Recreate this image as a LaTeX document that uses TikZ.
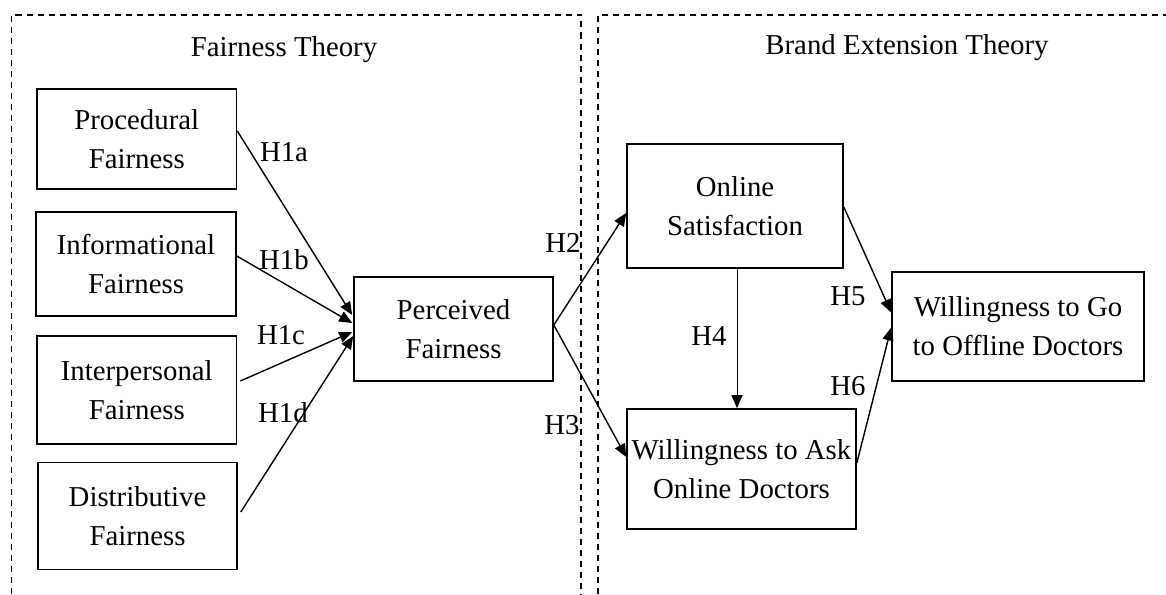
\documentclass[tikz,border=0pt]{standalone}
\usepackage{fontspec}
\setmainfont{Liberation Serif}
\usetikzlibrary{arrows.meta,calc}
\begin{document}
\begin{tikzpicture}[x=0.5pt,y=-0.5pt,
  box/.style={draw,line width=0.8pt,rectangle,align=center,inner sep=0pt,
    font=\fontsize{14.4}{19.5}\selectfont},
  lbl/.style={inner sep=0pt,font=\fontsize{14.4}{17}\selectfont},
  title/.style={inner sep=0pt,font=\fontsize{14.4}{17}\selectfont},
  frame/.style={draw,dashed,dash pattern=on 3pt off 2.5pt,line width=0.6pt},
  conn/.style={draw,line width=0.7pt,-{Triangle[length=6.5pt,width=5.5pt]}},
  thinconn/.style={draw,line width=0.45pt,-{Triangle[length=6.5pt,width=5.5pt]}}]
\useasboundingbox (0,0) rectangle (1166,594);
% frames
\draw[frame] (11.5,594) -- (11.5,15) -- (581,15) -- (581,594);
\draw[frame] (598,594) -- (598,15) -- (1166,15);
\node[title] (t1) at (284,50) {Fairness Theory};
\node[title] (t2) at (907,48) {Brand Extension Theory};
% nodes
\node[box,minimum width=99.75pt,minimum height=50pt] (proc) at (136.75,139) {Procedural\\Fairness};
\node[box,minimum width=100pt,minimum height=52pt] (info) at (136,264) {Informational\\Fairness};
\node[box,minimum width=99.75pt,minimum height=54pt] (inter) at (136.75,390) {Interpersonal\\Fairness};
\node[box,minimum width=99.5pt,minimum height=53.5pt] (dist) at (137.5,516) {Distributive\\Fairness};
\node[box,minimum width=99.5pt,minimum height=52pt] (perc) at (453.5,329) {Perceived\\Fairness};
\node[box,minimum width=108pt,minimum height=62pt] (os) at (735,206) {Online\\Satisfaction};
\node[box,minimum width=114.5pt,minimum height=60pt] (ask) at (741.5,469) {Willingness to Ask\\Online Doctors};
\node[box,minimum width=126pt,minimum height=54.5pt] (go) at (1018,326.5) {Willingness to Go\\to Offline Doctors};
% connectors
\draw[conn] ($(proc.east)+(0,-8)$) -- ($(perc.west)+(-1,-14)$);
\draw[conn] ($(info.east)+(0,-8)$) -- ($(perc.west)+(-1,-6)$);
\draw[conn] ($(inter.east)+(3,-9)$) -- ($(perc.west)+(-1,3)$);
\draw[conn] ($(dist.east)+(3,-4)$) -- ($(perc.west)+(0,7)$);
\draw[conn] ($(perc.east)+(0,-4)$) -- ($(os.west)+(0,7)$);
\draw[conn] ($(perc.east)+(0,-4)$) -- ($(ask.west)+(0,-12)$);
\coordinate (h4s) at ($(os.south)+(2,0)$);
\draw[thinconn] (h4s) -- (h4s |- ask.north);
\draw[conn] ($(os.east)+(0,1)$) -- ($(go.west)+(0,-14)$);
\draw[conn] ($(ask.east)+(0,-6)$) -- ($(go.west)+(0,1)$);
% labels
\node[lbl] (h1a) at (284,152) {H1a};
\node[lbl] (h1b) at (284,260) {H1b};
\node[lbl] (h1c) at (281,335) {H1c};
\node[lbl] (h1d) at (283,413) {H1d};
\node[lbl] (h2) at (563,243) {H2};
\node[lbl] (h3) at (562,425) {H3};
\node[lbl] (h4) at (709,336) {H4};
\node[lbl] (h5) at (848,296) {H5};
\node[lbl] (h6) at (848,386) {H6};
\end{tikzpicture}
\end{document}
